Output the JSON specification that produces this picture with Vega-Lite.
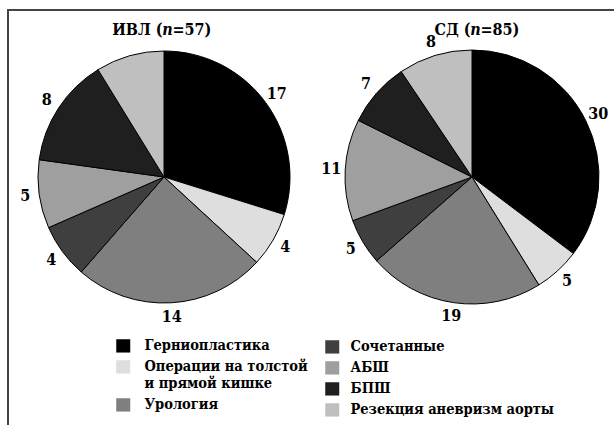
{
  "$schema": "https://vega.github.io/schema/vega-lite/v6.json",
  "width": 622,
  "height": 420,
  "autosize": "none",
  "padding": {"left": 8, "top": 10, "right": 0, "bottom": 0},
  "background": "white",
  "config": {
    "view": {"stroke": "#444444", "strokeWidth": 2},
    "text": {"font": "DejaVu Serif Condensed", "fontWeight": "bold", "color": "black"}
  },
  "datasets": {
    "ops": [
      {"group": "ИВЛ", "k": 1, "category": "Герниопластика", "value": 17, "label": "17"},
      {"group": "ИВЛ", "k": 2, "category": "Операции на толстой и прямой кишке", "value": 4, "label": "4"},
      {"group": "ИВЛ", "k": 3, "category": "Урология", "value": 14, "label": "14"},
      {"group": "ИВЛ", "k": 4, "category": "Сочетанные", "value": 4, "label": "4"},
      {"group": "ИВЛ", "k": 5, "category": "АБШ", "value": 5, "label": "5"},
      {"group": "ИВЛ", "k": 6, "category": "БПШ", "value": 8, "label": "8"},
      {"group": "ИВЛ", "k": 7, "category": "Резекция аневризм аорты", "value": 5, "label": ""},
      {"group": "СД", "k": 1, "category": "Герниопластика", "value": 30, "label": "30"},
      {"group": "СД", "k": 2, "category": "Операции на толстой и прямой кишке", "value": 5, "label": "5"},
      {"group": "СД", "k": 3, "category": "Урология", "value": 19, "label": "19"},
      {"group": "СД", "k": 4, "category": "Сочетанные", "value": 5, "label": "5"},
      {"group": "СД", "k": 5, "category": "АБШ", "value": 11, "label": "11"},
      {"group": "СД", "k": 6, "category": "БПШ", "value": 7, "label": "7"},
      {"group": "СД", "k": 7, "category": "Резекция аневризм аорты", "value": 8, "label": "8"}
    ],
    "titles": [
      {"group": "ИВЛ", "pre": "ИВЛ (", "n": "n", "post": "=57)"},
      {"group": "СД", "pre": "СД (", "n": "n", "post": "=85)"}
    ]
  },
  "data": {"name": "ops"},
  "encoding": {
    "x": {"field": "group", "type": "nominal", "axis": null,
          "scale": {"type": "point", "padding": 0, "domain": ["ИВЛ", "СД"], "range": [156, 464]}},
    "y": {"field": "group", "type": "nominal", "axis": null,
          "scale": {"type": "point", "padding": 0, "domain": ["ИВЛ", "СД"], "range": [167, 167]}}
  },
  "layer": [
    {
      "transform": [{"filter": "datum.group === 'ИВЛ'"}],
      "mark": {"type": "arc", "outerRadius": 126, "stroke": "black", "strokeWidth": 1},
      "encoding": {
        "theta": {"field": "value", "type": "quantitative"},
        "order": {"field": "k", "type": "quantitative", "sort": "ascending"},
        "color": {
          "field": "category", "type": "nominal",
          "sort": ["Герниопластика", "Операции на толстой и прямой кишке", "Урология", "Сочетанные", "АБШ", "БПШ", "Резекция аневризм аорты"],
          "scale": {
            "domain": ["Герниопластика", "Операции на толстой и прямой кишке", "Урология", "Сочетанные", "АБШ", "БПШ", "Резекция аневризм аорты"],
            "range": ["#000000", "#dedede", "#7f7f7f", "#3f3f3f", "#9f9f9f", "#1f1f1f", "#bfbfbf"]
          },
          "legend": {
            "values": ["Герниопластика", "Операции на толстой и прямой кишке", "Урология"],
            "orient": "none", "legendX": 108, "legendY": 322, "title": null,
            "direction": "vertical", "padding": 0,
            "symbolType": "M-1,0H1V1.9H-1Z", "symbolSize": 196,
            "symbolStrokeWidth": 0, "symbolOpacity": 1,
            "labelFont": "DejaVu Serif Condensed", "labelFontWeight": "bold", "labelFontSize": 14.5,
            "labelColor": "black", "labelBaseline": "top", "labelOffset": 14,
            "labelLimit": 400, "rowPadding": -3,
            "labelExpr": "datum.label === 'Операции на толстой и прямой кишке' ? ['Операции на толстой', 'и прямой кишке'] : datum.label"
          }
        }
      }
    },
    {
      "transform": [{"filter": "datum.group === 'СД'"}],
      "mark": {"type": "arc", "outerRadius": 127, "stroke": "black", "strokeWidth": 1},
      "encoding": {
        "theta": {"field": "value", "type": "quantitative"},
        "order": {"field": "k", "type": "quantitative", "sort": "ascending"},
        "color": {
          "field": "category", "type": "nominal",
          "sort": ["Герниопластика", "Операции на толстой и прямой кишке", "Урология", "Сочетанные", "АБШ", "БПШ", "Резекция аневризм аорты"],
          "scale": {
            "domain": ["Герниопластика", "Операции на толстой и прямой кишке", "Урология", "Сочетанные", "АБШ", "БПШ", "Резекция аневризм аорты"],
            "range": ["#000000", "#dedede", "#7f7f7f", "#3f3f3f", "#9f9f9f", "#1f1f1f", "#bfbfbf"]
          },
          "legend": {
            "values": ["Сочетанные", "АБШ", "БПШ", "Резекция аневризм аорты"],
            "orient": "none", "legendX": 317, "legendY": 323, "title": null,
            "direction": "vertical", "padding": 0,
            "symbolType": "M-1,0H1V1.9H-1Z", "symbolSize": 196,
            "symbolStrokeWidth": 0, "symbolOpacity": 1,
            "labelFont": "DejaVu Serif Condensed", "labelFontWeight": "bold", "labelFontSize": 14.5,
            "labelColor": "black", "labelBaseline": "top", "labelOffset": 11,
            "labelLimit": 400, "rowPadding": -3.5
          }
        }
      }
    },
    {
      "transform": [{"filter": "datum.group === 'ИВЛ'"}],
      "mark": {"type": "text", "radius": 140, "fontSize": 16, "baseline": "middle", "align": "center"},
      "encoding": {
        "theta": {"field": "value", "type": "quantitative", "stack": true},
        "order": {"field": "k", "type": "quantitative", "sort": "ascending"},
        "text": {"field": "label"}
      }
    },
    {
      "transform": [{"filter": "datum.group === 'СД'"}],
      "mark": {"type": "text", "radius": 141, "fontSize": 16, "baseline": "middle", "align": "center"},
      "encoding": {
        "theta": {"field": "value", "type": "quantitative", "stack": true},
        "order": {"field": "k", "type": "quantitative", "sort": "ascending"},
        "text": {"field": "label"}
      }
    },
    {
      "data": {"name": "titles"},
      "mark": {"type": "text", "fontSize": 16, "align": "right", "baseline": "alphabetic", "dx": -1.5, "dy": -142},
      "encoding": {"text": {"field": "pre"}}
    },
    {
      "data": {"name": "titles"},
      "mark": {"type": "text", "fontSize": 16, "fontStyle": "italic", "align": "center", "baseline": "alphabetic", "dx": 3.5, "dy": -142},
      "encoding": {"text": {"field": "n"}}
    },
    {
      "data": {"name": "titles"},
      "mark": {"type": "text", "fontSize": 16, "align": "left", "baseline": "alphabetic", "dx": 8.5, "dy": -142},
      "encoding": {"text": {"field": "post"}}
    }
  ],
  "resolve": {"scale": {"theta": "independent", "color": "independent"}}
}
